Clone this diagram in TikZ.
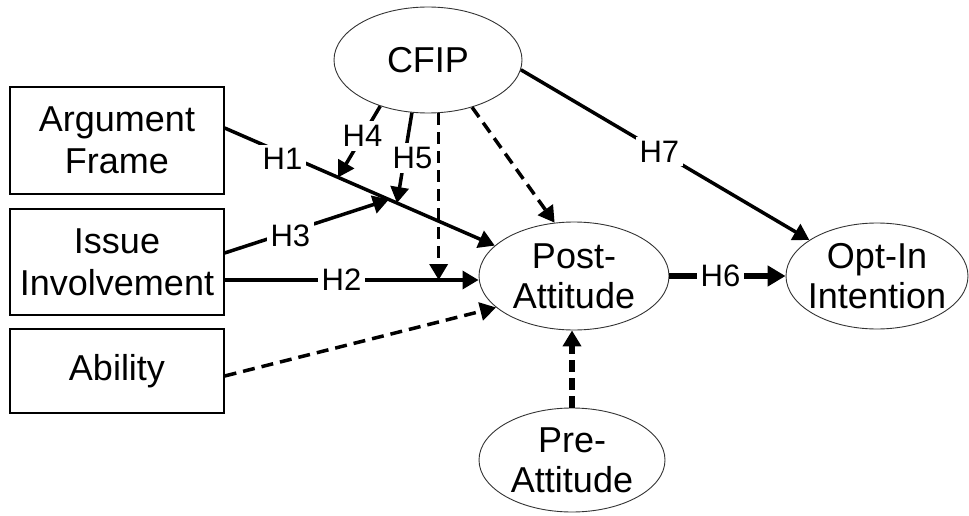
\documentclass[tikz,border=0pt]{standalone}
\usepackage{fontspec}
\setmainfont{Liberation Sans}
\usetikzlibrary{arrows.meta,shapes.geometric,calc}

\begin{document}
\begin{tikzpicture}[x=1pt,y=-1pt,
  box/.style={draw, line width=1.3pt, minimum width=214pt, inner sep=0pt,
    align=center, font=\fontsize{36}{42}\selectfont},
  oval/.style={ellipse, draw=black!80, line width=0.9pt, inner sep=0pt},
  ovaltext/.style={align=center, inner sep=0pt, font=\fontsize{36}{40}\selectfont},
  conn/.style={line width=3.5pt, -{Triangle[length=16pt,width=18pt]}},
  dconn/.style={conn, dash pattern=on 12pt off 7pt},
  lbl/.style={fill=white, inner sep=4pt, font=\fontsize{31}{33}\selectfont}
]
\useasboundingbox (0,0) rectangle (969,516);

% constructs
\node[box, minimum height=107pt] (arg) at (117,140.5) {Argument\\Frame};
\node[box, minimum height=106pt] (iss) at (117,262) {Issue\\Involvement};
\node[box, minimum height=84pt]  (abl) at (117,371) {Ability};

\node[oval, minimum width=188pt, minimum height=106pt,
  label={[ovaltext]center:CFIP}] (cfip) at (428,60) {};
\node[oval, minimum width=190pt, minimum height=108pt,
  label={[ovaltext]center:{Post-\\Attitude}}] (post) at (574,276) {};
\node[oval, minimum width=182pt, minimum height=106pt,
  label={[ovaltext]center:{Opt-In\\Intention}}] (opt) at (877,276) {};
\node[oval, minimum width=186pt, minimum height=104pt,
  label={[ovaltext]center:{Pre-\\Attitude}}] (pre) at (572,460) {};

% end points on the H1 path where moderators meet it
\coordinate (h1s) at ([yshift=12.5pt]arg.east);
\coordinate (h1e) at (post.159);
\coordinate (m4) at ($(h1s)!0.42!(h1e)$);
\coordinate (m3) at ($(h1s)!0.608!(h1e)$);
\coordinate (m5) at ($(h1s)!0.638!(h1e)$);
\coordinate (h2s) at ([yshift=-18pt]iss.east);
\coordinate (m2) at ([xshift=214pt]h2s);

% paths
\draw[conn] (h1s) -- node[lbl, pos=0.214, yshift=-6pt]{H1} (h1e);
\draw[conn] ([yshift=9pt]iss.east) -- node[lbl, pos=0.4, yshift=-4pt]{H3} (m3);
\draw[conn] (h2s) -- node[lbl, pos=0.46]{H2} (h2s -| post.west);
\draw[conn] (cfip.224) -- node[lbl, pos=0.42]{H4} (m4);
\draw[conn] (cfip.253) -- node[lbl, pos=0.5, xshift=8pt]{H5} (m5);
\draw[dconn] (cfip.south -| m2) -- (m2);
\draw[dconn] (cfip.313) -- (post.110);
\draw[conn] (cfip.-6) -- node[lbl, pos=0.48]{H7} (opt.152);
\draw[line width=5.5pt, -{Triangle[length=18pt,width=20pt]}]
  (post.east) -- node[lbl, pos=0.44]{H6} (opt.west);
\draw[dconn] ([yshift=-5pt]abl.east) -- (post.202);
\draw[dconn, line width=5.5pt, dash pattern=on 12pt off 6pt]
  (pre.north) -- (pre.north |- post.south);
\end{tikzpicture}
\end{document}
